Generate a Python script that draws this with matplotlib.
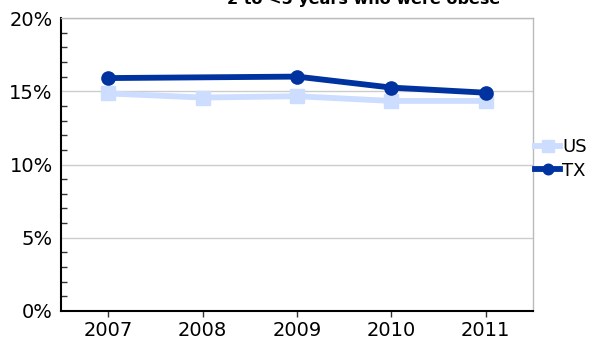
import matplotlib
matplotlib.use("Agg")
import matplotlib.pyplot as plt
from matplotlib.ticker import MultipleLocator, FuncFormatter

years = ["2007", "2008", "2009", "2010", "2011"]
us_values = [14.85, 14.57, 14.66, 14.34, 14.34]
tx_years = ["2007", "2009", "2010", "2011"]
tx_values = [15.9, 16.0, 15.25, 14.9]
title = "2 to <5 years who were obese"

W, H = 597, 341
fig = plt.figure(figsize=(W / 100, H / 100), dpi=100)
ax = fig.add_axes([61 / W, 1 - 311 / H, (533 - 61) / W, (311 - 18) / H])

xpos = {y: i for i, y in enumerate(years)}
us_color = "#CCDDFF"
tx_color = "#0033A0"

ax.plot([xpos[y] for y in years], us_values, color=us_color, lw=4.2,
        marker="s", ms=10.5, mec=us_color, mfc=us_color, label="US", zorder=3)
ax.plot([xpos[y] for y in tx_years], tx_values, color=tx_color, lw=4.2,
        marker="o", ms=9.5, mec=tx_color, mfc=tx_color, label="TX", zorder=4)

ax.set_xlim(-0.5, len(years) - 0.5)
ax.set_ylim(0, 20)
ax.set_xticks(range(len(years)))
ax.set_xticklabels(years)
ax.yaxis.set_major_locator(MultipleLocator(5))
ax.yaxis.set_minor_locator(MultipleLocator(1))
ax.yaxis.set_major_formatter(FuncFormatter(lambda v, p: f"{v:.0f}%"))
ax.grid(axis="y", which="major", color="#CCCCCC", lw=1)
ax.set_axisbelow(True)

ax.tick_params(axis="y", which="major", length=0, pad=6, labelsize=14)
ax.tick_params(axis="y", which="minor", direction="in", length=4, width=1, color="#333333")
ax.tick_params(axis="x", which="major", length=4, width=1, pad=3, labelsize=14, color="#333333")

for s in ["top", "right"]:
    ax.spines[s].set_color("#BBBBBB")
    ax.spines[s].set_linewidth(1)
for s in ["left", "bottom"]:
    ax.spines[s].set_color("#000000")
    ax.spines[s].set_linewidth(1.5)

leg = ax.legend(loc="center left", bbox_to_anchor=(535 / W, 1 - 159 / H),
                bbox_transform=fig.transFigure, frameon=False, fontsize=13,
                handlelength=1.4, handletextpad=0.1, labelspacing=0.3,
                borderaxespad=0, borderpad=0, markerscale=0.8)

fig.text(364 / W, 1 - 4 / H, title, ha="center", va="baseline",
         fontsize=11.5, fontweight="bold", color="#000000")

fig.savefig("out.png", dpi=100)
